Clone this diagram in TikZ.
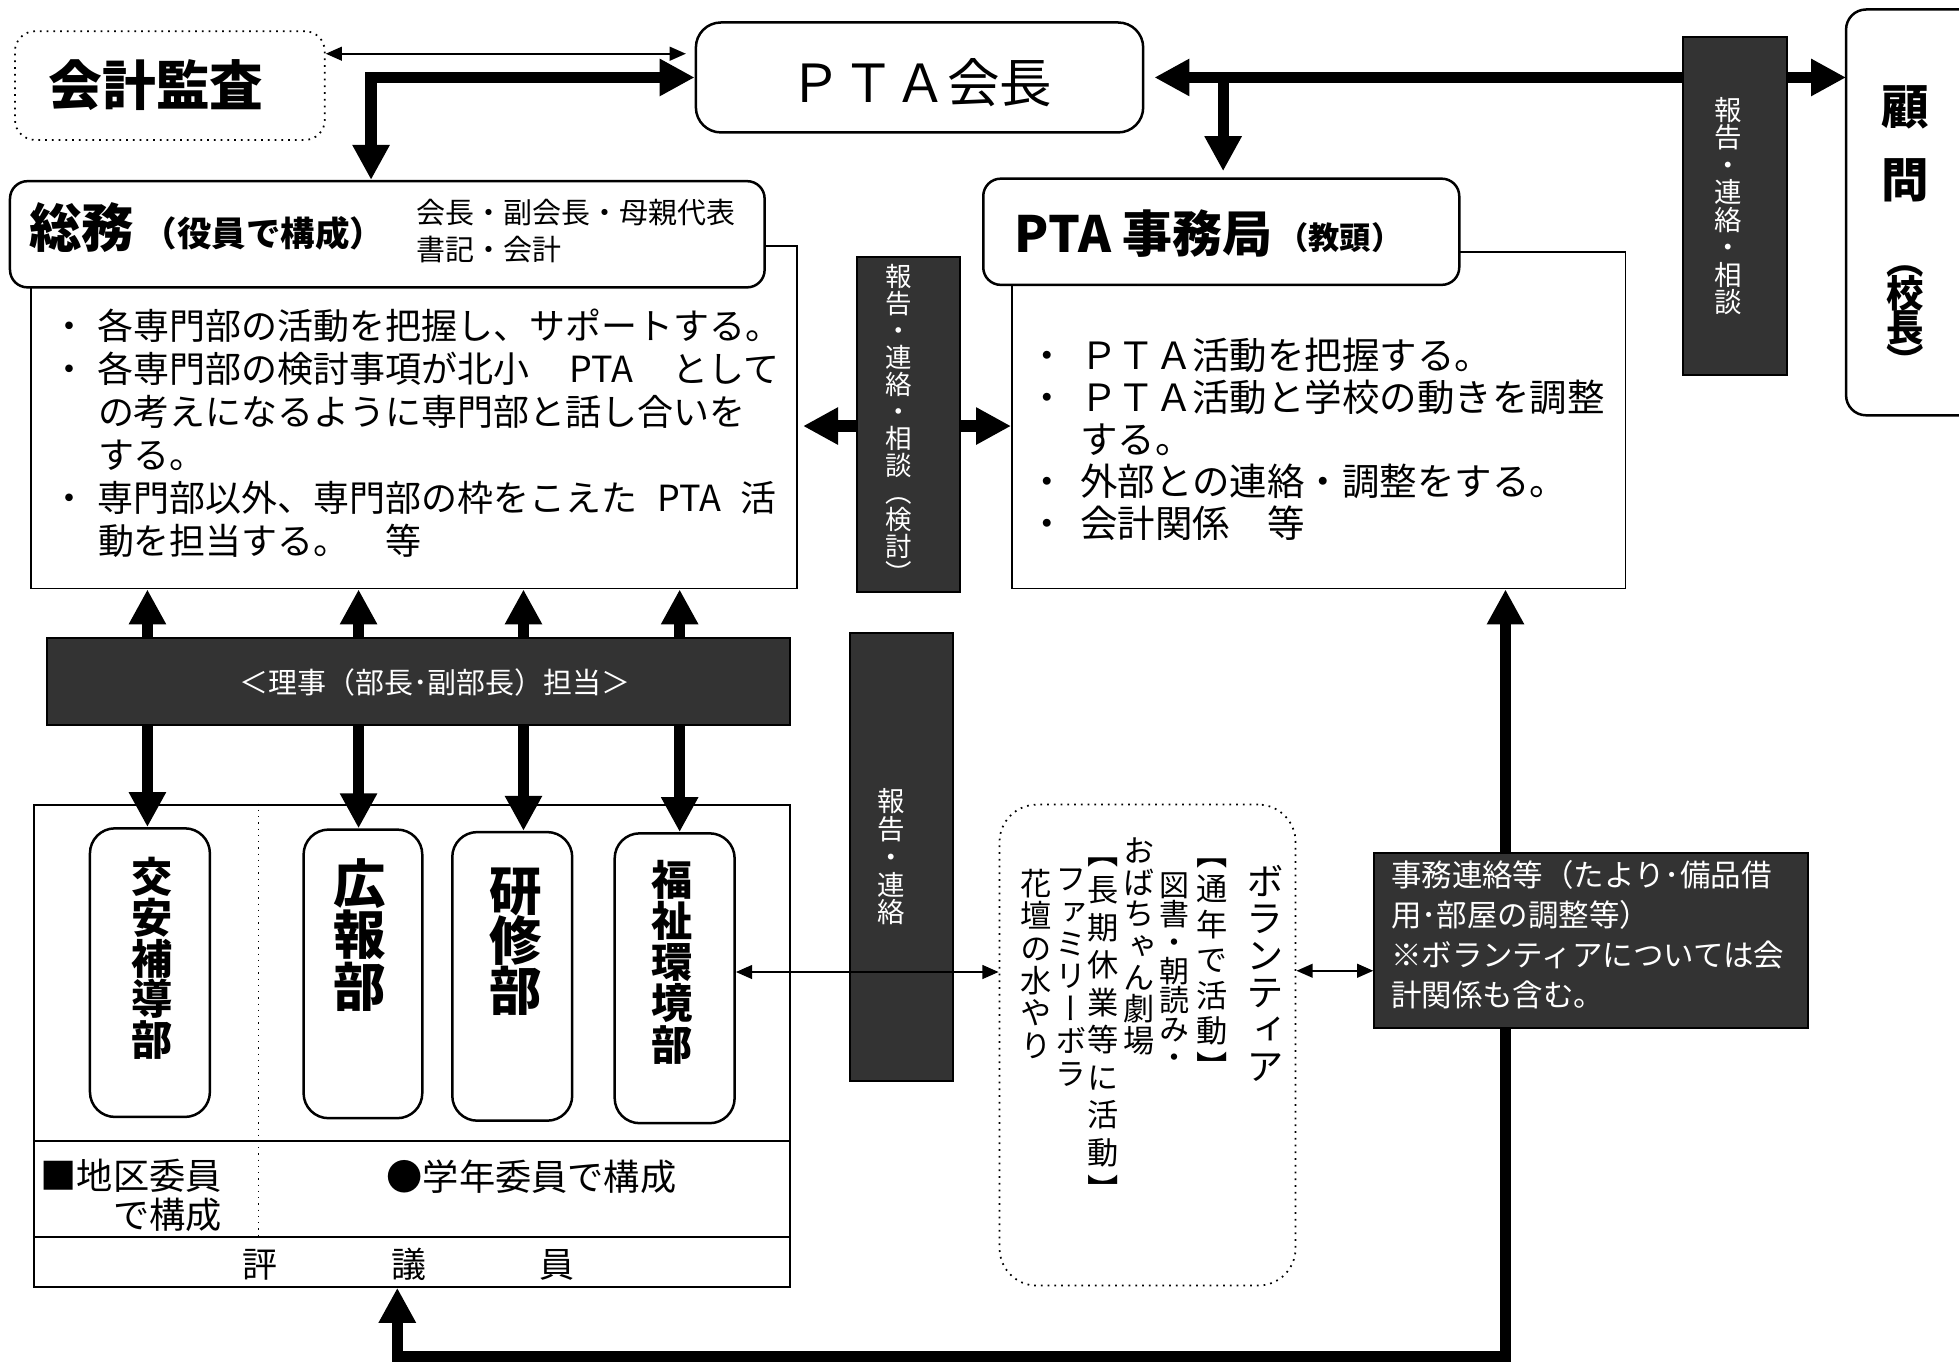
\documentclass[tikz,border=0pt]{standalone}
\usepackage{fontspec}
\setmainfont{Noto Sans CJK JP}
\newfontfamily\vfont[RawFeature=+vert]{Noto Sans CJK JP}
\usetikzlibrary{arrows.meta,fit}
\definecolor{dk}{HTML}{333333}
\ExplSyntaxOn
\NewDocumentCommand\vstack{mm}
 {
  \vbox
   {
    \baselineskip=#1\relax
    \lineskiplimit=-\maxdimen
    \lineskip=0pt\relax
    \tl_map_inline:nn {#2} { \hbox to 1em {\hss ##1 \hss} }
   }
 }
\ExplSyntaxOff
\newcommand\mybul[1][0.8em]{\rlap{\hspace*{-0.5em}・}\hspace*{#1}}
\newcommand\myind[1][0.8em]{\hspace*{#1}}
\begin{document}
\begin{tikzpicture}[x=0.5pt,y=-0.5pt,
  cbox/.style={draw,line width=0.75pt,inner sep=0pt,fill=white},
  rbox/.style={draw,line width=1pt,rounded corners=7pt,fill=white,inner sep=0pt},
  dbox/.style={draw,dotted,line width=0.7pt,rounded corners=8pt,inner sep=0pt},
  dkbox/.style={draw=black,line width=0.8pt,fill=dk,inner sep=0pt},
  txt/.style={inner sep=0pt},
  wtxt/.style={inner sep=0pt,text=white},
  bigarrow/.style={line width=4.5pt,{Triangle[width=14pt,length=14pt]}-{Triangle[width=14pt,length=14pt]}},
  bigone/.style={line width=4.5pt,-{Triangle[width=14pt,length=14pt]}},
  tarrow/.style={line width=0.8pt,{Triangle[width=5.5pt,length=6.5pt]}-{Triangle[width=5.5pt,length=6.5pt]}},
]
\useasboundingbox (0,0) rectangle (1568,1092);

% ---------- top row ----------
\node[dbox,fit={(12,25) (260,112)}] (audit) {};
\node[txt,font=\bfseries\fontsize{21.5pt}{22pt}\selectfont] (auditT) at (125,68) {会計監査};
\node[rbox,rounded corners=10pt,fit={(557,18) (915,106)}] (chair) {};
\node[txt,font=\fontsize{21pt}{22pt}\selectfont] (chairT) at (737,66) {ＰＴＡ会長};
\node[inner sep=0pt,fit={(1478,8) (1568,332)}] (komon) {};
\draw[line width=1pt,rounded corners=8pt] (komon.north east) -- (komon.north west) -- (komon.south west) -- (komon.south east);
\node[txt,font=\bfseries\fontsize{19pt}{19pt}\selectfont] (k1) at (1525,86) {顧};
\node[txt,font=\bfseries\fontsize{19pt}{19pt}\selectfont] (k2) at (1525,144) {問};
\node[txt,anchor=north,font=\vfont\bfseries\fontsize{15pt}{15pt}\selectfont] (k3) at (1525,212) {\vstack{13.5pt}{（校長）}};

% ---------- 総務 ----------
\node[cbox,fit={(25,197) (638,471)}] (soumuC) {};
\node[rbox,fit={(8,145) (612,230)}] (soumuH) {};
\node[txt,anchor=west,font=\bfseries\fontsize{21pt}{21pt}\selectfont] (s1) at (23,182) {総務};
\node[txt,anchor=west,font=\bfseries\fontsize{13.8pt}{14pt}\selectfont] (s2) at (114,187) {（役員で構成）};
\node[txt,anchor=west,align=left,font=\fontsize{11.6pt}{15pt}\selectfont] (s3) at (333,185) {会長・副会長・母親代表\\書記・会計};
\node[txt,anchor=north west,align=left,font=\fontsize{14.4pt}{17.2pt}\selectfont] (s4) at (55,247)
 {\mybul 各専門部の活動を把握し、サポートする。\\\mybul 各専門部の検討事項が北小\hspace*{1.1em}PTA\hspace*{1.1em}として\\\myind の考えになるように専門部と話し合いを\\\myind する。\\\mybul 専門部以外、専門部の枠をこえた\hspace*{0.55em}PTA\hspace*{0.55em}活\\\myind 動を担当する。　等};

% ---------- PTA事務局 ----------
\node[cbox,fit={(810,202) (1301,471)}] (jimuC) {};
\node[rbox,fit={(787,143) (1168,228)}] (jimuH) {};
\node[txt,anchor=west,font=\bfseries\fontsize{20pt}{20pt}\selectfont] (j1) at (812,187) {PTA 事務局};
\node[txt,anchor=west,font=\bfseries\fontsize{12.5pt}{12.5pt}\selectfont] (j2) at (1022,190) {（教頭）};
\node[txt,anchor=north west,align=left,font=\fontsize{15pt}{16.8pt}\selectfont] (j3) at (838,270)
 {\mybul[0.87em]ＰＴＡ活動を把握する。\\\mybul[0.87em]ＰＴＡ活動と学校の動きを調整\\\myind[0.87em]する。\\\mybul[0.87em]外部との連絡・調整をする。\\\mybul[0.87em]会計関係　等};

% ---------- top arrows ----------
\draw[tarrow,shorten >=3.5pt] (audit.east |- 0,43) -- (chair.west |- 0,43);
\draw[bigarrow] (chair.west |- 0,62) -| (soumuH.north -| 297,0);
\draw[bigarrow,shorten <=4pt] (chair.east) -- (komon.west |- chair.east);
\draw[bigone,shorten >=2.5pt] (chair.east -| 979,0) -- (jimuH.north -| 979,0);
\node[dkbox,fit={(1347,30) (1430,300)}] (hr1) {};
\node[wtxt,font=\vfont\fontsize{11pt}{11pt}\selectfont] (hr1T) at (1383,165) {\vstack{11pt}{報告・連絡・相談}};

% ---------- middle link ----------
\draw[bigarrow,shorten <=2pt] (soumuC.east |- 0,341) -- (jimuC.west |- 0,341);
\node[dkbox,fit={(686,206) (768,474)}] (hr2) {};
\node[wtxt,font=\vfont\fontsize{10.6pt}{10.6pt}\selectfont] (hr2T) at (719,339) {\vstack{10.8pt}{報告・連絡・相談（検討）}};

% ---------- committees ----------
\node[cbox,fill=none,fit={(27,644) (632,1030)}] (iinkai) {};
\draw[line width=0.75pt] (iinkai.west |- 0,913) -- (iinkai.east |- 0,913);
\draw[line width=0.75pt] (iinkai.west |- 0,990) -- (iinkai.east |- 0,990);
\draw[dotted,line width=0.5pt] (iinkai.north -| 207,0) -- (207,990);

\node[rbox,rounded corners=10pt,fit={(72,663) (168,894)}] (kouan) {};
\node[txt,anchor=north,font=\vfont\bfseries\fontsize{16.5pt}{16.5pt}\selectfont] (kouanT) at (122,686) {\vstack{16.25pt}{交安補導部}};
\node[rbox,rounded corners=10pt,fit={(243,664) (338,895)}] (kouhou) {};
\node[txt,anchor=north,font=\vfont\bfseries\fontsize{21pt}{21pt}\selectfont] (kouhouT) at (288,687) {\vstack{20.5pt}{広報部}};
\node[rbox,rounded corners=10pt,fit={(362,666) (458,897)}] (kenshu) {};
\node[txt,anchor=north,font=\vfont\bfseries\fontsize{21pt}{21pt}\selectfont] (kenshuT) at (413,694) {\vstack{20pt}{研修部}};
\node[rbox,rounded corners=10pt,fit={(492,667) (588,899)}] (fukushi) {};
\node[txt,anchor=north,font=\vfont\bfseries\fontsize{16.5pt}{16.5pt}\selectfont] (fukushiT) at (538,688) {\vstack{16.5pt}{福祉環境部}};

\node[txt,anchor=east,align=right,font=\fontsize{14.5pt}{15.5pt}\selectfont] (chiku) at (178,957) {■地区委員\\で構成};
\node[txt,anchor=west,font=\fontsize{14.5pt}{15pt}\selectfont] (gakunen) at (309,942) {●学年委員で構成};
\node[txt,font=\fontsize{14pt}{14pt}\selectfont] (hyougi) at (327,1012) {評\hspace*{45.5pt}議\hspace*{45.5pt}員};

\foreach \x/\d in {118/kouan,287/kouhou,419/kenshu,544/fukushi}
  \draw[bigarrow] (soumuC.south -| \x,0) -- (\d.north -| \x,0);
\node[dkbox,fit={(38,511) (632,580)}] (riji) {};
\node[wtxt,font=\fontsize{11.6pt}{12pt}\selectfont] (rijiT) at (348,546) {＜理事（部長･副部長）担当＞};

% ---------- middle dark box ----------
\node[dkbox,fit={(680,507) (763,865)}] (hr3) {};
\node[wtxt,anchor=north,font=\vfont\fontsize{11pt}{11pt}\selectfont] (hr3T) at (713,631) {\vstack{11.1pt}{報告・連絡}};

% ---------- volunteer ----------
\node[dbox,rounded corners=15pt,fit={(800,644) (1037,1029)}] (vol) {};
\node[txt,anchor=north,font=\vfont\fontsize{15pt}{15pt}\selectfont] (v1) at (1012.5,692) {\vstack{14.8pt}{ボランティア}};
\node[txt,anchor=north,font=\vfont\fontsize{12.5pt}{12.5pt}\selectfont] (v2) at (970,687) {\vstack{14.2pt}{【通年で活動】}};
\node[txt,anchor=north,font=\vfont\fontsize{12pt}{12pt}\selectfont] (v3) at (940,698) {\vstack{11.5pt}{図書・朝読み・}};
\node[txt,anchor=north,font=\vfont\fontsize{12.5pt}{12.5pt}\selectfont] (v4) at (912,670) {\vstack{12.7pt}{おばちゃん劇場}};
\node[txt,anchor=north,font=\vfont\fontsize{12.5pt}{12.5pt}\selectfont] (v5) at (883,686) {\vstack{15pt}{【長期休業等に活動】}};
\node[txt,anchor=north,font=\vfont\fontsize{12.5pt}{12.5pt}\selectfont] (v6) at (857,695) {\vstack{13pt}{ファミリーボラ}};
\node[txt,anchor=north,font=\vfont\fontsize{12.5pt}{12.5pt}\selectfont] (v7) at (829,695) {\vstack{13pt}{花壇の水やり}};

% ---------- bottom return arrow & 事務連絡 ----------
\draw[bigarrow] (iinkai.south -| 318,0) -- (318,1086) -| (jimuC.south -| 1205,0);
\node[dkbox,fit={(1100,683) (1447,823)}] (renraku) {};
\node[wtxt,anchor=north west,align=left,font=\fontsize{12.2pt}{16pt}\selectfont] (renrakuT) at (1113,688)
 {事務連絡等（たより･備品借\\用･部屋の調整等）\\※ボランティアについては会\\計関係も含む。};

\draw[tarrow] (fukushi.east |- 0,778) -- (vol.west |- 0,778);
\draw[tarrow] (vol.east |- 0,777) -- (renraku.west |- 0,777);
\end{tikzpicture}
\end{document}
